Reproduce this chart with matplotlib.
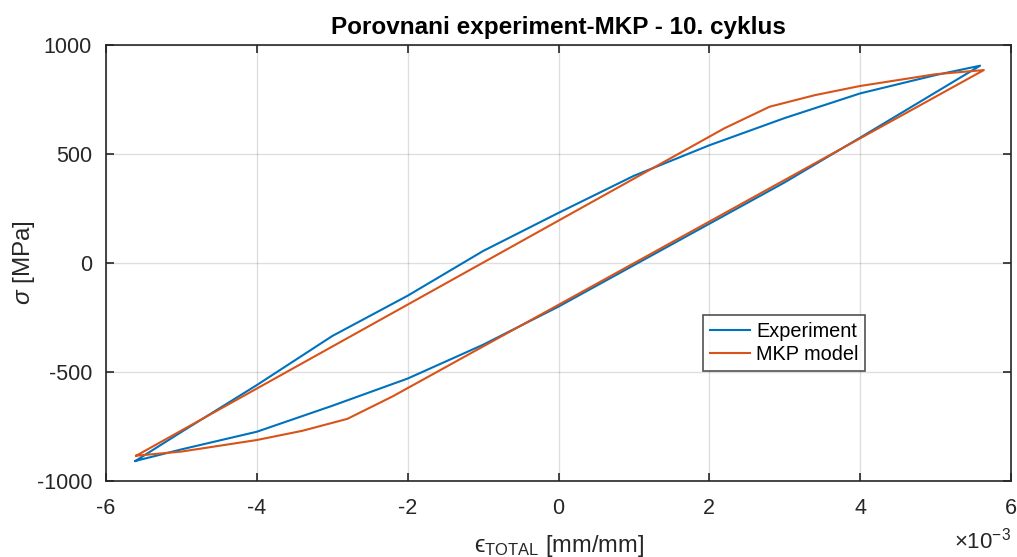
import matplotlib
matplotlib.use("Agg")
import matplotlib.pyplot as plt
from matplotlib.ticker import FuncFormatter, MultipleLocator

plt.rcParams['font.family'] = ['Liberation Sans', 'DejaVu Sans']
plt.rcParams['mathtext.fontset'] = 'custom'
plt.rcParams['mathtext.rm'] = 'Liberation Sans'
plt.rcParams['mathtext.it'] = 'Liberation Sans:italic'
plt.rcParams['mathtext.fallback'] = 'stixsans'
plt.rcParams['axes.unicode_minus'] = False

# Experiment loop (strain [mm/mm], stress [MPa])
exp_strain = [-5.61e-3, -5.0e-3, -4.0e-3, -3.0e-3, -2.0e-3, -1.0e-3, 0.0, 1.0e-3, 2.0e-3, 3.0e-3, 4.0e-3, 5.0e-3, 5.59e-3,
              4.0e-3, 3.0e-3, 2.0e-3, 1.0e-3, 0.0, -1.0e-3, -2.0e-3, -3.0e-3, -4.0e-3, -5.0e-3, -5.61e-3]
exp_stress = [-908, -775, -560, -335, -150, 55, 230, 400, 540, 665, 778, 862, 905,
              575, 370, 180, -10, -200, -375, -530, -655, -774, -855, -908]

# MKP model loop
mkp_strain = [-5.6e-3, 2.2e-3, 2.8e-3, 3.4e-3, 4.0e-3, 5.0e-3, 5.64e-3,
              -2.2e-3, -2.8e-3, -3.4e-3, -4.0e-3, -5.0e-3, -5.6e-3]
mkp_stress = [-884, 618, 717, 770, 812, 866, 885,
              -612, -715, -770, -812, -865, -884]

fig = plt.figure(figsize=(10.17, 5.57), dpi=100)
ax = fig.add_axes([106/1017, 1-481/557, 905/1017, 436/557])

ax.plot(exp_strain, exp_stress, color='#0072BD', lw=1.5, label='Experiment')
ax.plot(mkp_strain, mkp_stress, color='#D95319', lw=1.5, label='MKP model')

ax.set_xlim(-6e-3, 6e-3)
ax.set_ylim(-1000, 1000)
ax.xaxis.set_major_locator(MultipleLocator(2e-3))
ax.yaxis.set_major_locator(MultipleLocator(500))
ax.xaxis.set_major_formatter(FuncFormatter(lambda v, p: '%g' % round(v * 1e3, 6)))
ax.text(1.0, -0.154, '\u00d710$^{\\mathrm{-3}}$', transform=ax.transAxes,
        ha='right', va='baseline', fontsize=16, color='#262626')

ax.grid(True, color='#262626', alpha=0.15, lw=1)
ax.tick_params(direction='in', top=True, right=True, length=6, width=1.2,
               labelsize=15.5, colors='#262626')
ax.tick_params(axis='x', pad=12)
ax.tick_params(axis='y', pad=10)
for s in ax.spines.values():
    s.set_color('#262626')
    s.set_linewidth(1.2)

ax.set_title('Porovnani experiment-MKP - 10. cyklus', fontsize=17.5, fontweight='bold', pad=8)
ax.set_xlabel('$\\mathrm{\u03f5}_{\\mathrm{TOTAL}}$ [mm/mm]', fontsize=17, color='#262626', labelpad=10)
ax.set_ylabel(r'$\sigma$ [MPa]', fontsize=17.5, color='#262626', labelpad=0)

leg = ax.legend(loc='lower left', bbox_to_anchor=(0.66, 0.253), fontsize=14.3,
                frameon=True, fancybox=False, borderpad=0.35, handlelength=2.0,
                handletextpad=0.3, labelspacing=0.2, borderaxespad=0)
leg.get_frame().set_edgecolor('#262626')
leg.get_frame().set_linewidth(1.2)

fig.savefig('out.png', dpi=100)
